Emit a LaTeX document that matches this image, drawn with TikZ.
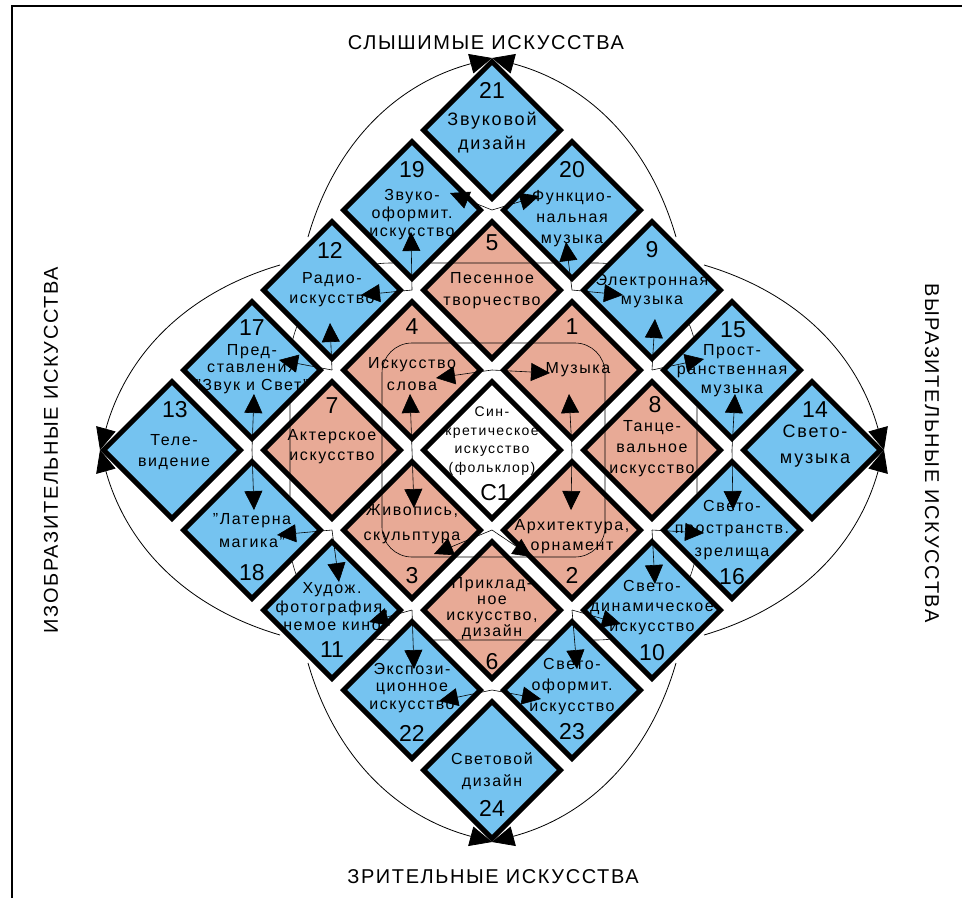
\documentclass[tikz,border=0pt]{standalone}
\usepackage{fontspec}
\setmainfont{Liberation Sans}[LetterSpace=10]
\newfontfamily\numf{Liberation Sans}
\newfontfamily\titlef{Liberation Sans}[LetterSpace=8]
\usetikzlibrary{shapes.geometric,arrows.meta}
\definecolor{bluec}{RGB}{117,195,240}
\definecolor{pinkc}{RGB}{232,170,150}
\tikzset{
  dmd/.style={shape=diamond, aspect=1, draw=black, line width=5pt, minimum width=139pt, minimum height=139pt, inner sep=0pt},
  bdmd/.style={dmd, fill=bluec},
  pdmd/.style={dmd, fill=pinkc},
  wdmd/.style={dmd, fill=white},
  lbl/.style={inner sep=0pt, align=center, font=\fontsize{16}{18}\selectfont},
  num/.style={inner sep=0pt, font=\numf\fontsize{23}{23}\selectfont},
  ttl/.style={inner sep=0pt, font=\titlef\fontsize{20}{20}\selectfont},
  arr/.style={line width=0.6pt, -{Triangle[length=19pt,width=18pt]}},
  bigarr/.style={line width=0.8pt, -{Triangle[length=22pt,width=20pt]}},
  fine/.style={line width=0.6pt},
}
\newcommand{\bluecut}[2]{(#1,#2-72) -- (#1+72,#2) -- (#1,#2+72) -- (#1-72,#2) -- cycle}
\begin{document}
\begin{tikzpicture}[x=1pt,y=-1pt]
\useasboundingbox (0,0) rectangle (962,898);
% frame
\draw[line width=1.5pt] (12,898) -- (12,6) -- (962,6);

% diamonds
\node[wdmd] (c1) at (492,450) {};
\node[pdmd] (d1) at (572,370) {};
\node[pdmd] (d2) at (572,530) {};
\node[pdmd] (d3) at (412,530) {};
\node[pdmd] (d4) at (412,370) {};
\node[pdmd] (d5) at (492,290) {};
\node[pdmd] (d6) at (492,610) {};
\node[pdmd] (d7) at (332,450) {};
\node[pdmd] (d8) at (652,450) {};
\node[bdmd] (d9) at (652,290) {};
\node[bdmd] (d10) at (652,610) {};
\node[bdmd] (d11) at (332,610) {};
\node[bdmd] (d12) at (332,290) {};
\node[bdmd] (d13) at (172,450) {};
\node[bdmd] (d14) at (812,450) {};
\node[bdmd] (d15) at (732,370) {};
\node[bdmd] (d16) at (732,530) {};
\node[bdmd] (d17) at (252,370) {};
\node[bdmd] (d18) at (252,530) {};
\node[bdmd] (d19) at (412,210) {};
\node[bdmd] (d20) at (572,210) {};
\node[bdmd] (d21) at (492,130) {};
\node[bdmd] (d22) at (412,690) {};
\node[bdmd] (d23) at (572,690) {};
\node[bdmd] (d24) at (492,770) {};

% thin inner lines (kept off the blue tiles)
\begin{scope}[even odd rule]
\clip (0,0) rectangle (962,898)
  \bluecut{332}{290} \bluecut{652}{290} \bluecut{332}{610} \bluecut{652}{610}
  \bluecut{412}{210} \bluecut{572}{210} \bluecut{412}{690} \bluecut{572}{690}
  \bluecut{252}{370} \bluecut{252}{530} \bluecut{732}{370} \bluecut{732}{530};
\draw[fine, rounded corners=30pt] (382,343) rectangle (605,557);
\draw[fine, rounded corners=100pt] (290,263) rectangle (697,640);
\end{scope}

% outer arcs
\coordinate (a1) at (308,237);
\coordinate (a2) at (280,265);
\coordinate (a3) at (676,237);
\coordinate (a4) at (704,265);
\coordinate (a5) at (308,663);
\coordinate (a6) at (280,635);
\coordinate (a7) at (676,663);
\coordinate (a8) at (704,635);
\draw[bigarr] (a1) .. controls (335.3,142.6) and (396.7,83.6) .. (d21.north);
\draw[bigarr] (a2) .. controls (185.6,292.8) and (126.6,354.4) .. (d13.west);
\draw[bigarr] (a3) .. controls (648.7,142.6) and (587.3,83.6) .. (d21.north);
\draw[bigarr] (a4) .. controls (798.4,292.8) and (857.4,354.4) .. (d14.east);
\draw[bigarr] (a5) .. controls (335.3,757.4) and (396.7,816.4) .. (d24.south);
\draw[bigarr] (a6) .. controls (185.6,607.2) and (126.6,545.6) .. (d13.west);
\draw[bigarr] (a7) .. controls (648.7,757.4) and (587.3,816.4) .. (d24.south);
\draw[bigarr] (a8) .. controls (798.4,607.2) and (857.4,545.6) .. (d14.east);

% texts
\node[lbl, font=\fontsize{18}{24}\selectfont] (t21) at (492,133) {Звуковой\\дизайн};
\node[lbl] (t19) at (412,215) {Звуко-\\оформит.\\искусство};
\node[lbl, font=\fontsize{16}{21}\selectfont] (t20) at (572,219) {Функцио-\\нальная\\музыка};
\node[lbl, font=\fontsize{16}{20}\selectfont] (t12) at (332,290) {Радио-\\искусство};
\node[lbl, font=\fontsize{16}{19}\selectfont] (t9) at (652,291) {Электронная\\музыка};
\node[lbl, font=\fontsize{16}{17.5}\selectfont] (t17) at (252,369) {Пред-\\ставления\\"Звук и Свет"};
\node[lbl, font=\fontsize{16}{19}\selectfont] (t15) at (732,371) {Прост-\\ранственная\\музыка};
\node[lbl, font=\fontsize{16}{21}\selectfont] (t13) at (174,452) {Теле-\\видение};
\node[lbl, font=\fontsize{18}{26}\selectfont] (t14) at (815,446) {Свето-\\музыка};
\node[lbl, font=\fontsize{16}{23}\selectfont] (t18) at (252,531) {"Латерна\\магика"};
\node[lbl, font=\fontsize{16}{22.5}\selectfont] (t16) at (732,530) {Свето-\\пространств.\\зрелища};
\node[lbl, font=\fontsize{16}{18.5}\selectfont] (t11) at (332,607) {Худож.\\фотография,\\немое кино};
\node[lbl, font=\fontsize{16}{20}\selectfont] (t10) at (652,608) {Свето-\\динамическое\\искусство};
\node[lbl, font=\fontsize{16}{17.5}\selectfont] (t22) at (412,688) {Экспози-\\ционное\\искусство};
\node[lbl, font=\fontsize{16}{21}\selectfont] (t23) at (572,687) {Свето-\\оформит.\\искусство};
\node[lbl, font=\fontsize{16}{22}\selectfont] (t24) at (492,771) {Световой\\дизайн};
\node[lbl, font=\fontsize{16}{22}\selectfont] (t5) at (492,291) {Песенное\\творчество};
\node[lbl, font=\fontsize{16}{22}\selectfont] (t4) at (412,374) {Искусство\\слова};
\node[lbl] (t1) at (578,370) {Музыка};
\node[lbl, font=\fontsize{16}{20}\selectfont] (t7) at (332,447) {Актерское\\искусство};
\node[lbl, font=\fontsize{16}{21}\selectfont] (t8) at (652,449) {Танце-\\вальное\\искусство};
\node[lbl, font=\fontsize{16}{25}\selectfont] (t3) at (412,524) {Живопись,\\скульптура};
\node[lbl, font=\fontsize{16}{20}\selectfont] (t2) at (572,537) {Архитектура,\\орнамент};
\node[lbl, font=\fontsize{16}{16}\selectfont] (t6) at (492,609) {Приклад-\\ное\\искусство,\\дизайн};
\node[lbl, font=\fontsize{14}{18.5}\selectfont] (tc) at (492,441) {Син-\\кретическое\\искусство\\(фольклор)};

% numbers
\node[num] (n21) at (492,90) {21};
\node[num] (n19) at (412,170) {19};
\node[num] (n20) at (572,170) {20};
\node[num] (n12) at (330,250) {12};
\node[num] (n9) at (652,250) {9};
\node[num] (n17) at (252,328) {17};
\node[num] (n15) at (733,330) {15};
\node[num] (n13) at (175,410) {13};
\node[num] (n14) at (815,410) {14};
\node[num] (n18) at (252,573) {18};
\node[num] (n16) at (732,577) {16};
\node[num] (n11) at (332,650) {11};
\node[num] (n10) at (652,653) {10};
\node[num] (n22) at (412,733) {22};
\node[num] (n23) at (572,732) {23};
\node[num] (n24) at (492,808) {24};
\node[num] (n5) at (492,243) {5};
\node[num] (n4) at (412,327) {4};
\node[num] (n1) at (572,327) {1};
\node[num] (n7) at (332,406) {7};
\node[num] (n8) at (655,405) {8};
\node[num] (n3) at (412,576) {3};
\node[num] (n2) at (572,575) {2};
\node[num] (n6) at (492,662) {6};
\node[num] (nc) at (495,493) {C1};

% crossings
\coordinate (xa) at (492,370);
\coordinate (xb) at (412,450);
\coordinate (xc) at (572,450);
\coordinate (xd) at (492,530);
\coordinate (xe) at (492,210);
\coordinate (xf) at (412,290);
\coordinate (xg) at (572,290);
\coordinate (xh) at (332,370);
\coordinate (xi) at (652,370);
\coordinate (xj) at (252,450);
\coordinate (xk) at (732,450);
\coordinate (xl) at (332,530);
\coordinate (xm) at (652,530);
\coordinate (xn) at (412,610);
\coordinate (xo) at (572,610);
\coordinate (xp) at (492,690);
% arrow tips
\coordinate (e1) at (436,378);
\coordinate (e2) at (550,373);
\coordinate (e3) at (410,394);
\coordinate (e4) at (414,508);
\coordinate (e5) at (569,394);
\coordinate (e6) at (571,510);
\coordinate (e7) at (434,554);
\coordinate (e8) at (532,557);
\coordinate (e9) at (450,193);
\coordinate (e10) at (539,196);
\coordinate (e11) at (411,232);
\coordinate (e12) at (361,295);
\coordinate (e13) at (566,242);
\coordinate (e14) at (623,295);
\coordinate (e15) at (330,323);
\coordinate (e16) at (279,360);
\coordinate (e17) at (655,319);
\coordinate (e18) at (704,359);
\coordinate (e19) at (254,394);
\coordinate (e20) at (254,510);
\coordinate (e21) at (735,394);
\coordinate (e22) at (733,510);
\coordinate (e23) at (277,535);
\coordinate (e24) at (339,582);
\coordinate (e25) at (704,533);
\coordinate (e26) at (655,584);
\coordinate (e27) at (369,622);
\coordinate (e28) at (414,669);
\coordinate (e29) at (577,669);
\coordinate (e30) at (621,624);
\coordinate (e31) at (439,701);
\coordinate (e32) at (541,699);

\draw[arr] (xa) -- (e1);
\draw[arr] (xa) -- (e2);
\draw[arr] (xb) -- (e3);
\draw[arr] (xb) -- (e4);
\draw[arr] (xc) -- (e5);
\draw[arr] (xc) -- (e6);
\draw[arr] (xd) -- (e7);
\draw[arr] (xd) -- (e8);
\draw[arr] (xe) -- (e9);
\draw[arr] (xe) -- (e10);
\draw[arr] (xf) -- (e11);
\draw[arr] (xf) -- (e12);
\draw[arr] (xg) -- (e13);
\draw[arr] (xg) -- (e14);
\draw[arr] (xh) -- (e15);
\draw[arr] (xh) -- (e16);
\draw[arr] (xi) -- (e17);
\draw[arr] (xi) -- (e18);
\draw[arr] (xj) -- (e19);
\draw[arr] (xj) -- (e20);
\draw[arr] (xk) -- (e21);
\draw[arr] (xk) -- (e22);
\draw[arr] (xl) -- (e23);
\draw[arr] (xl) -- (e24);
\draw[arr] (xm) -- (e25);
\draw[arr] (xm) -- (e26);
\draw[arr] (xn) -- (e27);
\draw[arr] (xn) -- (e28);
\draw[arr] (xo) -- (e29);
\draw[arr] (xo) -- (e30);
\draw[arr] (xp) -- (e31);
\draw[arr] (xp) -- (e32);

% titles
\node[ttl] (ts) at (486,43) {СЛЫШИМЫЕ ИСКУССТВА};
\node[ttl] (tz) at (493,877) {ЗРИТЕЛЬНЫЕ ИСКУССТВА};
\node[ttl, rotate=90] (ti) at (51,450) {ИЗОБРАЗИТЕЛЬНЫЕ ИСКУССТВА};
\node[ttl, rotate=-90] (tv) at (932,453) {ВЫРАЗИТЕЛЬНЫЕ ИСКУССТВА};
\end{tikzpicture}
\end{document}
